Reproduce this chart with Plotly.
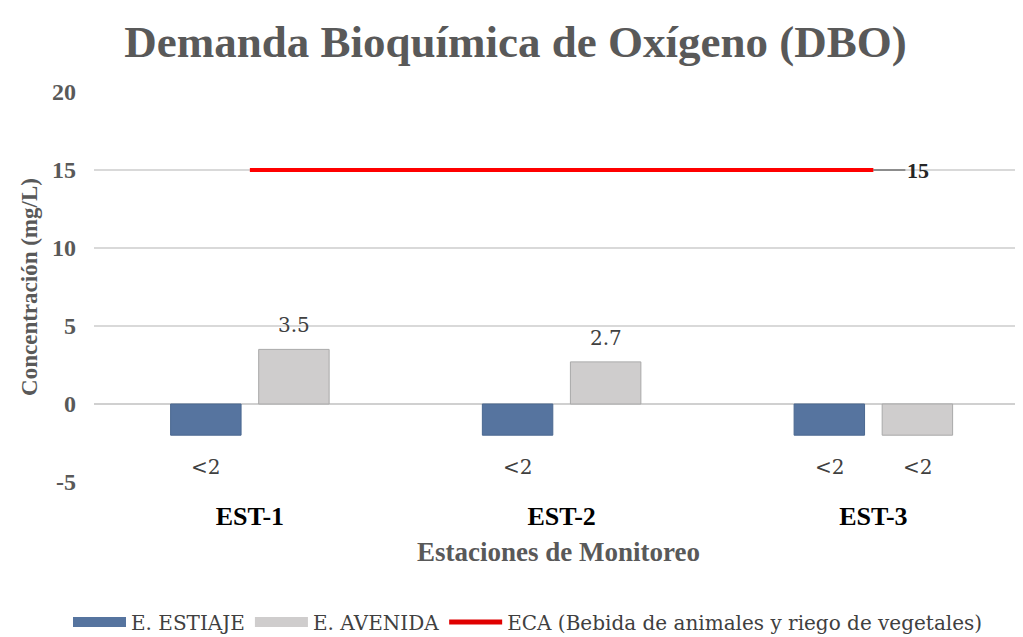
import plotly.graph_objects as go

categories = ["EST-1", "EST-2", "EST-3"]
estiaje = [-2, -2, -2]
avenida = [3.5, 2.7, -2]
estiaje_labels = ["&lt;2", "&lt;2", "&lt;2"]
avenida_labels = ["3.5", "2.7", "&lt;2"]
eca = [15, 15, 15]
eca_label = "15"

SERIF = "Liberation Serif, Times New Roman, DejaVu Serif, serif"
SERIF_REG = "DejaVu Serif, serif"
BLUE = "#56749f"
GRAY = "#cfcdcd"

fig = go.Figure()
fig.add_trace(go.Bar(
    x=categories, y=estiaje, name="E. ESTIAJE", showlegend=False,
    marker=dict(color=BLUE, line=dict(color="#4a6890", width=1)),
))
fig.add_trace(go.Bar(
    x=categories, y=avenida, name="E. AVENIDA", showlegend=False,
    marker=dict(color=GRAY, line=dict(color="#a9a9a9", width=1)),
))
fig.add_trace(go.Scatter(
    x=categories, y=eca, name="ECA (Bebida de animales y riego de vegetales)",
    mode="lines", line=dict(color="#ff0000", width=4), showlegend=False,
))
# legend entries (wide rectangular swatches as in the reference)
fig.add_trace(go.Scatter(x=[None], y=[None], mode="lines", name="E. ESTIAJE",
                         line=dict(color=BLUE, width=12)))
fig.add_trace(go.Scatter(x=[None], y=[None], mode="lines", name="E. AVENIDA",
                         line=dict(color=GRAY, width=12)))
fig.add_trace(go.Scatter(x=[None], y=[None], mode="lines",
                         name="ECA (Bebida de animales y riego de vegetales)",
                         line=dict(color="#e00000", width=5)))

annotations = []
for cat, v, t in zip(categories, estiaje, estiaje_labels):
    annotations.append(dict(
        x=cat, y=v, xref="x", yref="y", text=t, showarrow=False,
        xshift=-44, yshift=(24 if v >= 0 else -32), yanchor="middle",
        font=dict(family=SERIF_REG, size=20, color="#404040"),
    ))
for cat, v, t in zip(categories, avenida, avenida_labels):
    annotations.append(dict(
        x=cat, y=v, xref="x", yref="y", text=t, showarrow=False,
        xshift=44, yshift=(24 if v >= 0 else -32), yanchor="middle",
        font=dict(family=SERIF_REG, size=20, color="#404040"),
    ))
annotations.append(dict(
    x=categories[-1], y=eca[-1], xref="x", yref="y", text="<b>" + eca_label + "</b>",
    showarrow=True, arrowhead=0, arrowwidth=1, arrowcolor="#404040",
    ax=32, ay=0, xanchor="left",
    font=dict(family=SERIF, size=22, color="#262626"),
))

W, H = 1015, 629
fig.update_layout(
    width=W, height=H,
    margin=dict(l=86, r=0, t=84, b=155),
    paper_bgcolor="white", plot_bgcolor="white",
    barmode="group", bargap=0.435, bargroupgap=0.2,
    title=dict(
        text="<b>Demanda Bioquímica de Oxígeno (DBO)</b>",
        x=0.5, xref="container", xanchor="center",
        y=1 - 33 / H, yref="container", yanchor="middle",
        font=dict(family=SERIF, size=45, color="#595959"),
    ),
    legend=dict(
        orientation="h", xref="container", x=520 / W, xanchor="center",
        yref="container", y=15 / H, yanchor="middle",
        font=dict(family=SERIF_REG, size=20, color="#404040"),
        traceorder="normal", itemwidth=53,
    ),
    annotations=annotations,
    showlegend=True,
)

fig.update_xaxes(
    range=[-0.5, 2.48],
    tickfont=dict(family=SERIF, size=26, color="#000000", weight="bold"),
    ticklabelstandoff=16, showline=False, showgrid=False, zeroline=False,
    title=dict(text="<b>Estaciones de Monitoreo</b>", standoff=12,
               font=dict(family=SERIF, size=27, color="#595959")),
)
fig.update_yaxes(
    range=[-5, 20], tickvals=[-5, 0, 5, 10, 15, 20],
    ticktext=["-5", "0", "5", "10", "15", "20"],
    tickfont=dict(family=SERIF, size=24, color="#595959", weight="bold"),
    ticklabelstandoff=17,
    showgrid=True, gridcolor="#d9d9d9", gridwidth=1.5,
    zeroline=True, zerolinecolor="#d0d0d0", zerolinewidth=2,
    showline=False,
    title=dict(text="<b>Concentración (mg/L)</b>", standoff=7,
               font=dict(family=SERIF, size=23, color="#595959")),
)

fig.write_html("out.html")
